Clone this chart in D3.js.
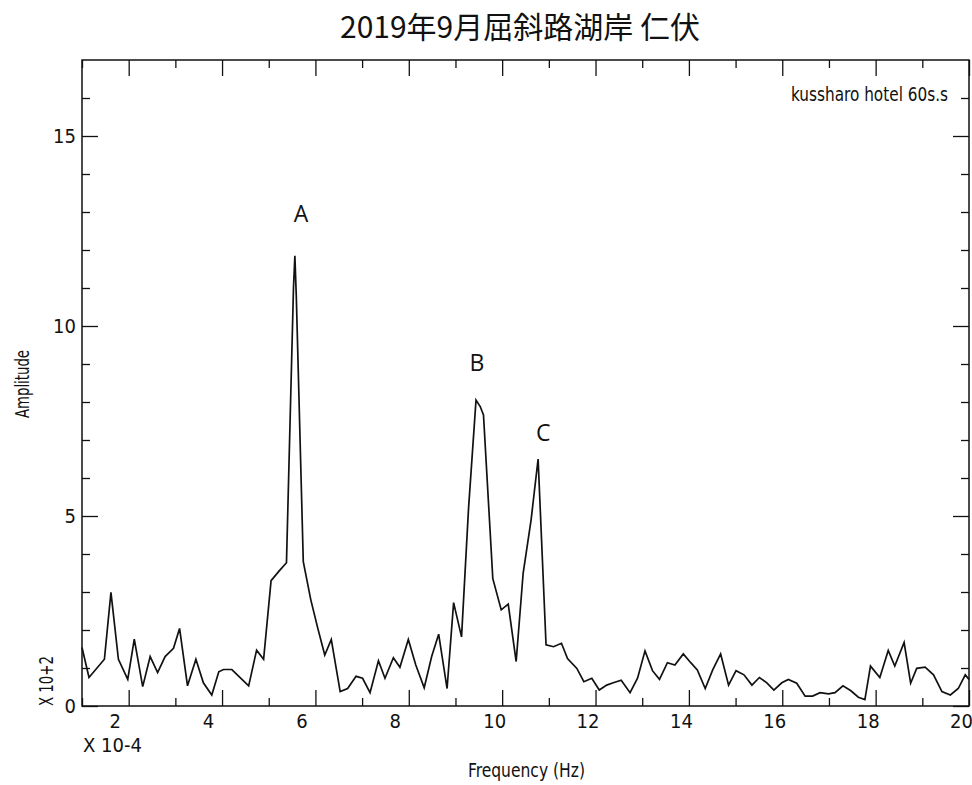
<!DOCTYPE html>
<html>
<head>
<meta charset="utf-8">
<script src="https://cdn.jsdelivr.net/npm/d3@7"></script>
<style>
  html, body { margin: 0; padding: 0; background: #fff; }
  svg { display: block; }
  .sac { font-family: "Liberation Sans Narrow", "DejaVu Sans Condensed", "Liberation Sans", sans-serif; fill: #111; }
</style>
</head>
<body>
<svg id="chart" width="972" height="785"></svg>
<script>
// ---- data ----
const title = "2019年9月屈斜路湖岸 仁伏";
const stationLabel = "kussharo hotel 60s.s";
const xLabel = "Frequency (Hz)";
const yLabel = "Amplitude";
const xScaleNote = "X 10-4";
const yScaleNote = "X 10+2";

const xMajorTicks = [2, 4, 6, 8, 10, 12, 14, 16, 18, 20];
const xMinorTicks = [1, 3, 5, 7, 9, 11, 13, 15, 17, 19];
const yMajorTicks = [0, 5, 10, 15];
const yMinorTicks = [1, 2, 3, 4, 6, 7, 8, 9, 11, 12, 13, 14, 16];

const freq = [1.00,1.15,1.48,1.62,1.78,1.98,2.12,2.30,2.46,2.62,2.78,2.96,3.09,3.26,3.44,3.60,3.78,3.93,4.03,4.21,
  4.57,4.74,4.89,5.05,5.22,5.38,5.53,5.56,5.59,5.74,5.90,6.05,6.20,6.34,6.53,6.69,6.87,7.01,7.17,7.35,
  7.49,7.67,7.81,7.99,8.15,8.33,8.49,8.64,8.82,8.96,9.13,9.28,9.44,9.53,9.60,9.80,9.98,10.13,10.30,10.45,
  10.62,10.77,10.94,11.10,11.27,11.40,11.60,11.75,11.92,12.08,12.24,12.38,12.55,12.74,12.90,13.06,13.22,13.37,13.54,13.70,
  13.88,14.04,14.18,14.35,14.51,14.68,14.85,15.01,15.18,15.35,15.51,15.67,15.82,15.99,16.13,16.31,16.49,16.65,16.81,16.99,
  17.13,17.30,17.47,17.63,17.77,17.89,18.09,18.27,18.41,18.61,18.75,18.88,19.06,19.24,19.42,19.60,19.77,19.92,20.00];
const amplitude = [1.54,0.75,1.23,2.99,1.23,0.70,1.76,0.51,1.30,0.88,1.30,1.52,2.04,0.53,1.23,0.61,0.29,0.90,0.96,0.96,
  0.53,1.47,1.23,3.30,3.55,3.77,11.0,11.85,10.8,3.80,2.80,2.05,1.34,1.75,0.38,0.46,0.78,0.73,0.35,1.19,
  0.73,1.27,1.02,1.75,1.08,0.48,1.30,1.89,0.46,2.72,1.82,5.2,8.05,7.88,7.66,3.35,2.53,2.68,1.17,3.5,
  4.9,6.5,1.61,1.56,1.65,1.25,0.99,0.64,0.73,0.42,0.55,0.61,0.68,0.35,0.73,1.45,0.93,0.70,1.14,1.08,
  1.37,1.14,0.95,0.46,0.95,1.37,0.55,0.93,0.82,0.55,0.75,0.61,0.42,0.61,0.70,0.60,0.26,0.26,0.35,0.32,
  0.35,0.53,0.40,0.23,0.17,1.05,0.75,1.46,1.05,1.67,0.60,0.99,1.02,0.82,0.38,0.29,0.46,0.82,0.70];

const peakNames = ["A", "B", "C"];
const peakLabelFreq = [5.69, 9.46, 10.88];
const peakLabelAmp = [12.97, 9.05, 7.21];

// ---- layout ----
const svg = d3.select("#chart");
const pLeft = 82, pRight = 969, pTop = 60, pBottom = 706;
const x = d3.scaleLinear().domain([1, 20]).range([pLeft, pRight]);
const y = d3.scaleLinear().domain([0, 17]).range([pBottom, pTop]);

// title
svg.append("text")
  .attr("x", 520).attr("y", 38)
  .attr("text-anchor", "middle")
  .style("font-family", '"Noto Sans CJK JP", "Noto Sans CJK SC", sans-serif')
  .style("font-size", "30px")
  .style("fill", "#111")
  .text(title);

// axes (inward ticks)
function styleAxis(g) {
  g.select(".domain").remove();
  g.selectAll("line").attr("stroke", "#111").attr("stroke-width", 1.3);
  g.selectAll("text").attr("class", "sac").style("font-size", "20px").attr("fill", "#111");
}
svg.append("g").attr("transform", `translate(0,${pBottom})`)
  .call(d3.axisBottom(x).tickValues(xMajorTicks).tickSizeInner(-16).tickSizeOuter(0).tickPadding(8).tickFormat(d3.format("d")))
  .call(styleAxis)
  .call(g => g.selectAll("text").attr("dx", d => d < 10 ? -14 : -8));
svg.append("g").attr("transform", `translate(0,${pBottom})`)
  .call(d3.axisBottom(x).tickValues(xMinorTicks).tickSizeInner(-8).tickSizeOuter(0).tickFormat(""))
  .call(styleAxis);
svg.append("g").attr("transform", `translate(0,${pTop})`)
  .call(d3.axisTop(x).tickValues(xMajorTicks).tickSizeInner(-16).tickSizeOuter(0).tickFormat(""))
  .call(styleAxis);
svg.append("g").attr("transform", `translate(0,${pTop})`)
  .call(d3.axisTop(x).tickValues(xMinorTicks).tickSizeInner(-8).tickSizeOuter(0).tickFormat(""))
  .call(styleAxis);

svg.append("g").attr("transform", `translate(${pLeft},0)`)
  .call(d3.axisLeft(y).tickValues(yMajorTicks).tickSizeInner(-16).tickSizeOuter(0).tickPadding(6).tickFormat(d3.format("d")))
  .call(styleAxis);
svg.append("g").attr("transform", `translate(${pLeft},0)`)
  .call(d3.axisLeft(y).tickValues(yMinorTicks).tickSizeInner(-8).tickSizeOuter(0).tickFormat(""))
  .call(styleAxis);
svg.append("g").attr("transform", `translate(${pRight},0)`)
  .call(d3.axisRight(y).tickValues(yMajorTicks).tickSizeInner(-16).tickSizeOuter(0).tickFormat(""))
  .call(styleAxis);
svg.append("g").attr("transform", `translate(${pRight},0)`)
  .call(d3.axisRight(y).tickValues(yMinorTicks).tickSizeInner(-8).tickSizeOuter(0).tickFormat(""))
  .call(styleAxis);

// frame
svg.append("rect")
  .attr("x", pLeft).attr("y", pTop)
  .attr("width", pRight - pLeft).attr("height", pBottom - pTop)
  .attr("fill", "none").attr("stroke", "#111").attr("stroke-width", 1.5);

// spectrum line
const pts = freq.map((f, i) => [f, amplitude[i]]);
svg.append("path")
  .datum(pts)
  .attr("fill", "none")
  .attr("stroke", "#111")
  .attr("stroke-width", 1.7)
  .attr("stroke-linejoin", "miter")
  .attr("d", d3.line().x(d => x(d[0])).y(d => y(d[1])));

// station label
svg.append("text").attr("class", "sac")
  .attr("x", 791).attr("y", 101)
  .attr("textLength", 157).attr("lengthAdjust", "spacingAndGlyphs")
  .style("font-size", "19px")
  .text(stationLabel);

// axis labels
svg.append("text").attr("class", "sac")
  .attr("x", 468).attr("y", 777)
  .attr("textLength", 117).attr("lengthAdjust", "spacingAndGlyphs")
  .style("font-size", "19px")
  .text(xLabel);
svg.append("text").attr("class", "sac")
  .attr("transform", "translate(29,418) rotate(-90)")
  .attr("textLength", 68).attr("lengthAdjust", "spacingAndGlyphs")
  .style("font-size", "19px")
  .text(yLabel);
svg.append("text").attr("class", "sac")
  .attr("x", 83).attr("y", 752)
  .attr("textLength", 59).attr("lengthAdjust", "spacingAndGlyphs")
  .style("font-size", "19px")
  .text(xScaleNote);
svg.append("text").attr("class", "sac")
  .attr("transform", "translate(53,706) rotate(-90)")
  .attr("textLength", 50).attr("lengthAdjust", "spacingAndGlyphs")
  .style("font-size", "19px")
  .text(yScaleNote);

// peak annotations
svg.selectAll(".peak")
  .data(peakNames)
  .join("text")
  .attr("class", "peak")
  .attr("x", (d, i) => x(peakLabelFreq[i]))
  .attr("y", (d, i) => y(peakLabelAmp[i]))
  .attr("text-anchor", "middle")
  .attr("dominant-baseline", "central")
  .style("font-family", '"Open Sans", "Noto Sans", sans-serif')
  .style("font-size", "23px")
  .style("fill", "#111")
  .text(d => d);
</script>
</body>
</html>
